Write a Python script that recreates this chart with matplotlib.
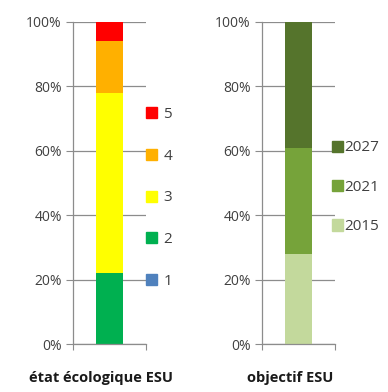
import matplotlib.pyplot as plt
from matplotlib.patches import Patch

# left panel: ecological status
etat_classes = ['1', '2', '3', '4', '5']
etat_values = [0, 22, 56, 16, 6]
etat_colors = ['#4f81bd', '#00b050', '#ffff00', '#ffb000', '#ff0000']

# right panel: objective year
objectif_years = ['2015', '2021', '2027']
objectif_values = [28, 33, 39]
objectif_colors = ['#c3d99c', '#76a33a', '#55742c']

plt.rcParams['font.family'] = ['Open Sans', 'DejaVu Sans']

fig = plt.figure(figsize=(3.88, 3.92), dpi=100)
ax1 = fig.add_axes([0.188, 0.122, 0.188, 0.822])
ax2 = fig.add_axes([0.675, 0.122, 0.188, 0.822])

grid_c = '#8c8c8c'
text_c = '#404040'


def draw_stack(ax, labels, values, colors):
    bottom = 0
    for lab, v, c in zip(labels, values, colors):
        ax.bar(0, v, width=0.38, bottom=bottom, color=c, label=lab, zorder=2)
        bottom += v
    ax.set_xlim(-0.5, 0.5)
    ax.set_ylim(0, 100)
    ax.set_yticks(range(0, 101, 20))
    ax.set_yticklabels(['%d%%' % t for t in range(0, 101, 20)])
    ax.yaxis.grid(True, color=grid_c, linewidth=0.9, zorder=0)
    ax.set_xticks([-0.5, 0.5])
    ax.set_xticklabels([])
    ax.tick_params(axis='x', length=4, color=grid_c)
    ax.tick_params(axis='y', length=5, color=grid_c, labelsize=10,
                   labelcolor=text_c, pad=3)
    for s in ['top', 'right']:
        ax.spines[s].set_visible(False)
    for s in ['left', 'bottom']:
        ax.spines[s].set_color(grid_c)
        ax.spines[s].set_linewidth(0.9)


draw_stack(ax1, etat_classes, etat_values, etat_colors)
draw_stack(ax2, objectif_years, objectif_values, objectif_colors)

# category titles under each bar
fig.text(101 / 388, 0.036, 'état écologique ESU', ha='center', va='center',
         fontsize=10.5, fontweight='bold', color='#1a1a1a')
fig.text(290 / 388, 0.036, 'objectif ESU', ha='center', va='center',
         fontsize=10.5, fontweight='bold', color='#1a1a1a')


def add_legend(labels, colors, x, y, spacing, pad):
    handles = [Patch(color=c, label=l) for l, c in zip(labels, colors)][::-1]
    fig.legend(handles=handles, loc='center left', bbox_to_anchor=(x, y),
               frameon=False, fontsize=11, handlelength=0.75, handleheight=0.75,
               handletextpad=pad, labelspacing=spacing, borderpad=0,
               borderaxespad=0, labelcolor=text_c)


add_legend(etat_classes, etat_colors, 0.376, 0.495, 1.75, 0.4)
add_legend(objectif_years, objectif_colors, 0.855, 0.522, 1.6, 0.1)

fig.savefig('out.png', dpi=100)
